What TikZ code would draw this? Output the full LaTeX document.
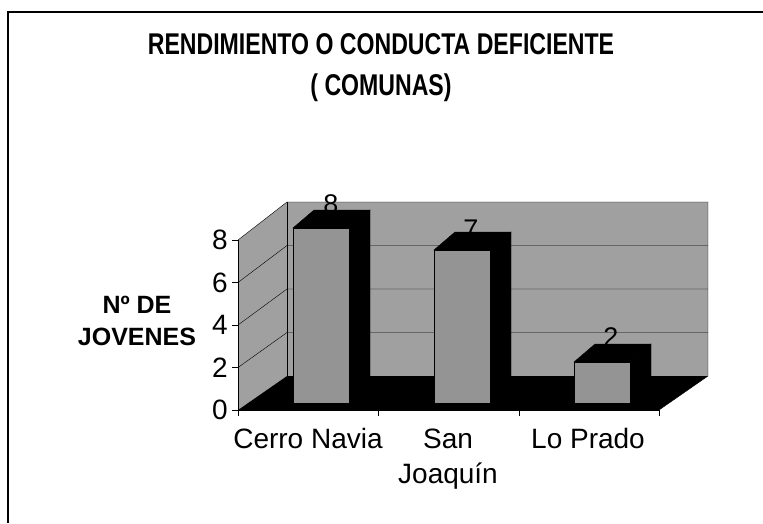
\documentclass[tikz,border=0pt]{standalone}
\usepackage{fontspec}
\setmainfont{Liberation Sans}
\newfontfamily\narrowfont[FakeStretch=0.77]{Liberation Sans}
\usetikzlibrary{positioning}

\definecolor{wallgray}{RGB}{160,160,160}
\definecolor{bargray}{RGB}{148,148,148}

\tikzset{
  ticklabel/.style={anchor=east, inner sep=0pt, font=\fontsize{28}{30}\selectfont},
  catlabel/.style={anchor=base, inner sep=0pt, font=\fontsize{28}{30}\selectfont},
  valuelabel/.style={anchor=base, inner sep=0pt, font=\fontsize{27}{29}\selectfont},
  titlelabel/.style={anchor=base, font=\narrowfont\bfseries\fontsize{30}{34}\selectfont},
  barside/.style={fill=black, draw=black}
}

\begin{document}
\begin{tikzpicture}[x=1pt, y=-1pt]
        \useasboundingbox (0,0) rectangle (763,523);
        \draw[line width=2pt] (763,12) -- (8,12) -- (8,523);
        \node[titlelabel] (title) at (381,54) {RENDIMIENTO O CONDUCTA DEFICIENTE};
        \node[titlelabel] (subtitle) at (381,95) {( COMUNAS)};
        % walls and floor
        \fill[wallgray] (287,202) rectangle (708,376);
        \fill[wallgray] (238,410) -- (238,240) -- (287,202) -- (287,376) -- cycle;
        \fill[black] (238,410) -- (287,376) -- (708,376) -- (659,410) -- cycle;
        \draw (238,240) -- (287,202) -- (708,202) -- (708,376) -- (659,410);
        \draw (287,202) -- (287,376);
        \draw (238,367.5) -- (287,332.5) -- (708,332.5);
        \draw (238,325) -- (287,289) -- (708,289);
        \draw (238,282.5) -- (287,245.5) -- (708,245.5);
        % bars
        \draw[barside] (349,403) -- (370,385) -- (370,210) -- (349,228) -- cycle;
        \draw[barside] (293,228) -- (314,210) -- (370,210) -- (349,228) -- cycle;
        \draw[fill=bargray] (293,228) rectangle (349,403);
        \draw[barside] (490,403) -- (511,385) -- (511,232) -- (490,250) -- cycle;
        \draw[barside] (434,250) -- (455,232) -- (511,232) -- (490,250) -- cycle;
        \draw[fill=bargray] (434,250) rectangle (490,403);
        \draw[barside] (630,403) -- (651,385) -- (651,344) -- (630,362) -- cycle;
        \draw[barside] (574,362) -- (595,344) -- (651,344) -- (630,362) -- cycle;
        \draw[fill=bargray] (574,362) rectangle (630,403);
        \node[valuelabel] (v1) at (331,213) {8};
        \node[valuelabel] (v2) at (471,238) {7};
        \node[valuelabel] (v3) at (611,346) {2};
        % axes
        \draw[line width=1pt] (238,240) -- (238,410) -- (659,410);
        \draw (232,240) -- (238,240) (232,282.5) -- (238,282.5) (232,325) -- (238,325)
              (232,367.5) -- (238,367.5) (232,410) -- (238,410);
        \draw (238,410) -- (238,416) (378,410) -- (378,416) (519,410) -- (519,416) (659,410) -- (659,416);
        \node[ticklabel] (y8) at (228,240) {8};
        \node[ticklabel] (y6) at (228,282.5) {6};
        \node[ticklabel] (y4) at (228,325) {4};
        \node[ticklabel] (y2) at (228,367.5) {2};
        \node[ticklabel] (y0) at (228,410) {0};
        \node[catlabel] (c1) at (308,448) {Cerro Navia};
        \node[catlabel] (c2) at (448,448) {San};
        \node[catlabel] (c2b) at (448,483) {Joaquín};
        \node[catlabel] (c3) at (588,448) {Lo Prado};
        \node[anchor=base, font=\bfseries\fontsize{25}{28}\selectfont] (ylab1) at (137,313) {Nº DE};
        \node[anchor=base, font=\bfseries\fontsize{25}{28}\selectfont] (ylab2) at (137,345) {JOVENES};
    \end{tikzpicture}
\end{document}
